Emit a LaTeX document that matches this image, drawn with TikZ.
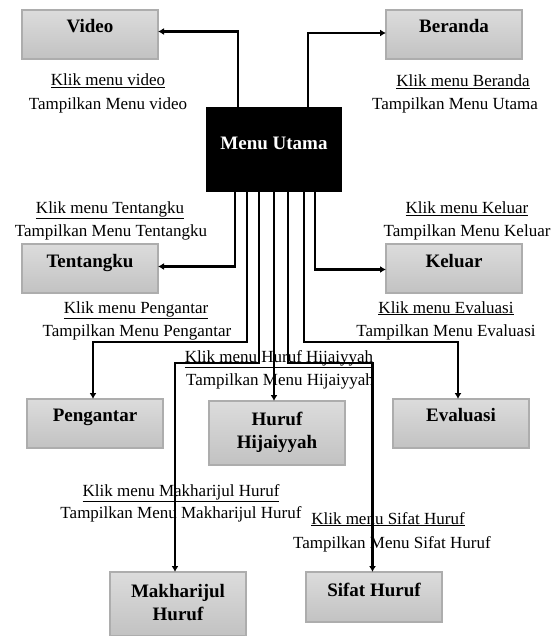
\documentclass[tikz,border=0pt]{standalone}
\usepackage{fontspec}
\setmainfont{Liberation Serif}
\usetikzlibrary{arrows.meta}

\definecolor{boxtop}{HTML}{DCDCDC}
\definecolor{boxbot}{HTML}{C2C2C2}
\definecolor{boxline}{HTML}{ADADAD}

% two centred lines inside a box, aligned on the first baseline
\newcommand{\stackedlabel}[2]{\parbox[t]{130pt}{\centering #1\\#2}}

\begin{document}
\begin{tikzpicture}[x=1pt,y=-1pt,
  menubox/.style={rectangle, draw=boxline, line width=1.2pt,
    top color=boxtop, bottom color=boxbot,
    minimum width=136pt, inner xsep=0pt, inner ysep=0pt, outer sep=0pt,
    anchor=north west, font=\fontsize{19}{23}\selectfont\bfseries,
    text height=23pt, text depth=26pt},
  mainbox/.style={rectangle, fill=black, text=white,
    minimum width=136pt, inner xsep=0pt, inner ysep=0pt, outer sep=0pt,
    anchor=north west, font=\fontsize{19}{23}\selectfont\bfseries,
    text height=43pt, text depth=42pt},
  caption/.style={anchor=base, inner sep=0pt,
    font=\fontsize{17}{22}\selectfont},
  conn/.style={line width=2.2pt, line join=miter,
    -{Latex[length=6pt,width=7pt]}}
]
\useasboundingbox (0,0) rectangle (557,636);

% menu boxes
\node[mainbox] (mu) at (206,107) {Menu Utama};
\node[menubox] (video) at (22,10) {Video};
\node[menubox] (beranda) at (386,10) {Beranda};
\node[menubox] (tentangku) at (22,244) {Tentangku};
\node[menubox] (keluar) at (386,244) {Keluar};
\node[menubox, text height=22pt, text depth=27pt] (pengantar) at (27,399) {Pengantar};
\node[menubox, text height=22pt, text depth=27pt] (evaluasi) at (393,399) {Evaluasi};
\node[menubox, text height=24pt, text depth=40pt] (hijaiyyah) at (209,401)
  {\stackedlabel{Huruf}{Hijaiyyah}};
\node[menubox, text height=25pt, text depth=39pt] (makharijul) at (110,572)
  {\stackedlabel{Makharijul}{Huruf}};
\node[menubox, text height=24pt, text depth=26pt] (sifat) at (306,572) {Sifat Huruf};

% event / response captions
\node[caption] (kVideo) at (108,86) {\underline{Klik menu video}};
\node[caption] (tVideo) at (108,110) {Tampilkan Menu video};
\node[caption] (kBeranda) at (463,87) {\underline{Klik menu Beranda}};
\node[caption] (tBeranda) at (455,110) {Tampilkan Menu Utama};
\node[caption] (kTentangku) at (110,213) {\underline{Klik menu Tentangku}};
\node[caption] (tTentangku) at (111,236) {Tampilkan Menu Tentangku};
\node[caption] (kKeluar) at (467,214) {\underline{Klik menu Keluar}};
\node[caption] (tKeluar) at (467,236) {Tampilkan Menu Keluar};
\node[caption] (kPengantar) at (136,313) {\underline{Klik menu Pengantar}};
\node[caption] (tPengantar) at (137,336) {Tampilkan Menu Pengantar};
\node[caption] (kEvaluasi) at (446,313) {\underline{Klik menu Evaluasi}};
\node[caption] (tEvaluasi) at (446,336) {Tampilkan Menu Evaluasi};
\node[caption] (kHijaiyyah) at (279,362) {\underline{Klik menu Huruf Hijaiyyah}};
\node[caption] (tHijaiyyah) at (280,385) {Tampilkan Menu Hijaiyyah};
\node[caption] (kMakharijul) at (181,496) {\underline{Klik menu Makharijul Huruf}};
\node[caption] (tMakharijul) at (181,518) {Tampilkan Menu Makharijul Huruf};
\node[caption] (kSifat) at (388,524) {\underline{Klik menu Sifat Huruf}};
\node[caption] (tSifat) at (392,548) {Tampilkan Menu Sifat Huruf};

% connector ports on the main box
\coordinate (tV) at ([xshift=32pt]mu.north west);
\coordinate (tB) at ([xshift=102pt]mu.north west);
\coordinate (b1) at ([xshift=29pt]mu.south west);
\coordinate (b2) at ([xshift=41pt]mu.south west);
\coordinate (b3) at ([xshift=53pt]mu.south west);
\coordinate (b4) at ([xshift=68pt]mu.south west);
\coordinate (b5) at ([xshift=82pt]mu.south west);
\coordinate (b6) at ([xshift=98pt]mu.south west);
\coordinate (b7) at ([xshift=109pt]mu.south west);

% connectors
\draw[conn] (tV) |- ([yshift=3pt]video.east);
\draw[conn] (tB) |- ([yshift=1.5pt]beranda.west);
\draw[conn] (b1) |- ([yshift=2pt]tentangku.east);
\draw[conn] (b7) |- ([yshift=-1pt]keluar.west);
\draw[conn] (b2) -- ++(0,150) -| ([xshift=-2pt]pengantar.north);
\draw[conn] (b6) -- ++(0,150) -| ([xshift=-3pt]evaluasi.north);
\draw[conn] (b3) -- ++(0,171) -| ([xshift=-3pt]makharijul.north);
\draw[conn] (b5) -- ++(0,171) -| ([xshift=-1.5pt]sifat.north);
\draw[conn] (b4) -- (b4 |- hijaiyyah.north);
\end{tikzpicture}
\end{document}
